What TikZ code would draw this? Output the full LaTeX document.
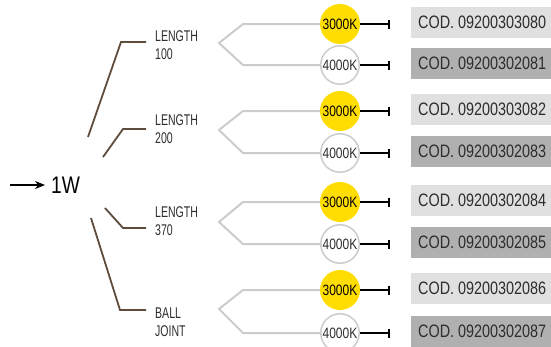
\documentclass[tikz,border=0pt]{standalone}
\usepackage{fontspec}
\setmainfont{Liberation Sans}[FakeStretch=0.68]
\newfontfamily\codefont{Liberation Sans}[FakeStretch=0.8]
\usepackage{tikz}
\usetikzlibrary{arrows.meta,positioning}
\definecolor{brn}{RGB}{94,76,60}
\definecolor{gry}{RGB}{204,204,204}
\definecolor{warm}{RGB}{255,221,0}
\definecolor{lite}{RGB}{224,224,224}
\definecolor{dark}{RGB}{176,176,176}
\definecolor{ink}{RGB}{45,45,45}
\begin{document}
\begin{tikzpicture}[x=1pt,y=-1pt,
  lbl/.style={anchor=west,inner sep=0pt,align=left,font=\fontsize{15.5}{18}\selectfont,text=ink},
  hot/.style={circle,fill=warm,minimum size=40pt,inner sep=0pt,font=\codefont\fontsize{15}{15}\selectfont,text=black},
  cold/.style={circle,draw=gry,line width=1.5pt,fill=white,minimum size=38.5pt,inner sep=0pt,font=\codefont\fontsize{15}{15}\selectfont,text=ink},
  cod/.style={anchor=west,minimum width=142pt,minimum height=31pt,inner sep=0pt,font=\codefont\fontsize{18}{18}\selectfont,text=ink},
  br/.style={draw=brn,line width=1.8pt,shorten >=9pt},
  gl/.style={draw=gry,line width=2pt},
  tk/.style={-{Bar[width=9pt]},line width=2pt,shorten >=21pt}]
  \useasboundingbox (0,0) rectangle (551,346);
  % root
  \coordinate (src) at (10,185);
  \node[anchor=west,inner xsep=6pt,inner ysep=0pt,font=\codefont\fontsize{24}{24}\selectfont,text=black] (w1) at (45,185) {1W};
  \draw[-{Stealth[length=10pt,width=8pt]},line width=1.6pt] (src) -- (w1);
  % lengths
  \node[lbl] (len1) at (155,45) {LENGTH\\100};
  \node[lbl] (len2) at (155,129.5) {LENGTH\\200};
  \node[lbl] (len3) at (155,221) {LENGTH\\370};
  \node[lbl] (len4) at (155,322) {BALL\\JOINT};
  \coordinate (s1) at (88,137); \coordinate (k1) at (121,42);
  \coordinate (s2) at (103,157); \coordinate (k2) at (123,129);
  \coordinate (s3) at (105,208); \coordinate (k3) at (123,228);
  \coordinate (s4) at (91,218); \coordinate (k4) at (120,310);
  \draw[br] (s1) -- (k1) -- (k1 -| len1.west);
  \draw[br] (s2) -- (k2) -- (k2 -| len2.west);
  \draw[br] (s3) -- (k3) -- (k3 -| len3.west);
  \draw[br] (s4) -- (k4) -- (k4 -| len4.west);
  % colour temperatures
  \node[hot] (c1) at (340,24) {3000K};
  \node[cold] (c2) at (340,65) {4000K};
  \node[hot] (c3) at (340,111) {3000K};
  \node[cold] (c4) at (340,153) {4000K};
  \node[hot] (c5) at (340,202) {3000K};
  \node[cold] (c6) at (340,244) {4000K};
  \node[hot] (c7) at (340,290) {3000K};
  \node[cold] (c8) at (340,333) {4000K};
  \coordinate (fork) at (243,0);
  \coordinate (t1) at (219,43); \coordinate (t2) at (219,130);
  \coordinate (t3) at (219,222); \coordinate (t4) at (219,309);
  \draw[gl] (c1.west) -- (c1.west -| fork) -- (t1) -- (c2.west -| fork) -- (c2.west);
  \draw[gl] (c3.west) -- (c3.west -| fork) -- (t2) -- (c4.west -| fork) -- (c4.west);
  \draw[gl] (c5.west) -- (c5.west -| fork) -- (t3) -- (c6.west -| fork) -- (c6.west);
  \draw[gl] (c7.west) -- (c7.west -| fork) -- (t4) -- (c8.west -| fork) -- (c8.west);
  % codes
  \node[cod,fill=lite] (b1) at (411,22) {COD. 09200303080};
  \node[cod,fill=dark] (b2) at (411,63) {COD. 09200302081};
  \node[cod,fill=lite] (b3) at (411,109) {COD. 09200303082};
  \node[cod,fill=dark] (b4) at (411,151) {COD. 09200302083};
  \node[cod,fill=lite] (b5) at (411,200) {COD. 09200302084};
  \node[cod,fill=dark] (b6) at (411,242) {COD. 09200302085};
  \node[cod,fill=lite] (b7) at (411,288) {COD. 09200302086};
  \node[cod,fill=dark] (b8) at (411,331) {COD. 09200302087};
  \draw[tk] (c1.east) -- (c1 -| b1.west);
  \draw[tk] (c2.east) -- (c2 -| b2.west);
  \draw[tk] (c3.east) -- (c3 -| b3.west);
  \draw[tk] (c4.east) -- (c4 -| b4.west);
  \draw[tk] (c5.east) -- (c5 -| b5.west);
  \draw[tk] (c6.east) -- (c6 -| b6.west);
  \draw[tk] (c7.east) -- (c7 -| b7.west);
  \draw[tk] (c8.east) -- (c8 -| b8.west);
\end{tikzpicture}
\end{document}
